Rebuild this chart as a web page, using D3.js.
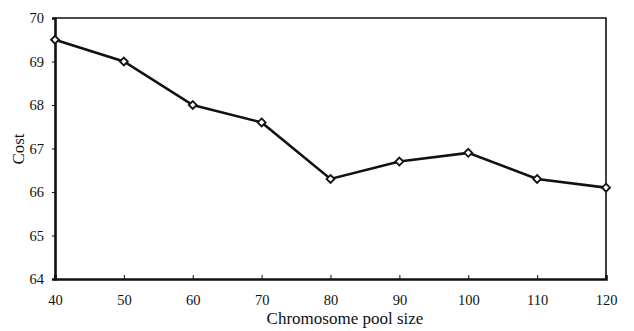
<!DOCTYPE html>
<html>
<head>
<meta charset="utf-8">
<script src="https://cdn.jsdelivr.net/npm/d3@7"></script>
<style>
  body { margin: 0; background: #fff; }
  text { font-family: "Liberation Serif", "Times New Roman", serif; fill: #111; }
</style>
</head>
<body>
<div id="chart"></div>
<script>
// chart data
let poolSizes = [40, 50, 60, 70, 80, 90, 100, 110, 120];
let costs = [69.5, 69.0, 68.0, 67.6, 66.3, 66.7, 66.9, 66.3, 66.1];
let xTicks = [40, 50, 60, 70, 80, 90, 100, 110, 120];
let yTicks = [64, 65, 66, 67, 68, 69, 70];

let W = 634, H = 331;
let margin = {top: 18, right: 28, bottom: 52, left: 55};

let svg = d3.select('#chart').append('svg')
  .attr('width', W).attr('height', H);

let x = d3.scaleLinear().domain([40, 120]).range([margin.left, W - margin.right]);
let y = d3.scaleLinear().domain([64, 70]).range([H - margin.bottom, margin.top]);

// frame (top + right thinner than the axes)
svg.append('path')
  .attr('d', 'M' + x(40) + ',' + y(70) + 'H' + x(120) + 'V' + y(64))
  .attr('fill', 'none').attr('stroke', '#111').attr('stroke-width', 1.6);

// axes
let xAxis = d3.axisBottom(x).tickValues(xTicks).tickSize(-4).tickPadding(16).tickFormat(d3.format('d'));
let yAxis = d3.axisLeft(y).tickValues(yTicks).tickSize(3).tickPadding(8).tickFormat(d3.format('d'));

let gx = svg.append('g').attr('transform', 'translate(0,' + y(64) + ')').call(xAxis);
let gy = svg.append('g').attr('transform', 'translate(' + x(40) + ',0)').call(yAxis);
[gx, gy].forEach(function(g) {
  g.select('.domain').attr('stroke', '#111').attr('stroke-width', 2.6);
  g.selectAll('.tick line').attr('stroke', '#111').attr('stroke-width', 1);
  g.selectAll('.tick text').style('font-size', '14.5px').style('font-family', '"Liberation Serif", serif').attr('fill', '#111');
});

// axis titles
svg.append('text')
  .attr('x', 345).attr('y', 324)
  .attr('text-anchor', 'middle').style('font-size', '17px')
  .text('Chromosome pool size');
svg.append('text')
  .attr('transform', 'translate(24,149) rotate(-90)')
  .attr('text-anchor', 'middle').style('font-size', '17px')
  .text('Cost');

// line
let line = d3.line().x(function(d, i) { return x(poolSizes[i]); }).y(function(d) { return y(d); });
svg.append('path').datum(costs)
  .attr('d', line).attr('fill', 'none')
  .attr('stroke', '#111').attr('stroke-width', 2.6);

// markers
let diamond = d3.symbol().type(d3.symbolDiamond2).size(40);
svg.selectAll('.pt').data(costs).enter().append('path')
  .attr('class', 'pt')
  .attr('d', diamond)
  .attr('transform', function(d, i) { return 'translate(' + x(poolSizes[i]) + ',' + y(d) + ')'; })
  .attr('fill', '#fff').attr('stroke', '#111').attr('stroke-width', 1.8);
</script>
</body>
</html>
